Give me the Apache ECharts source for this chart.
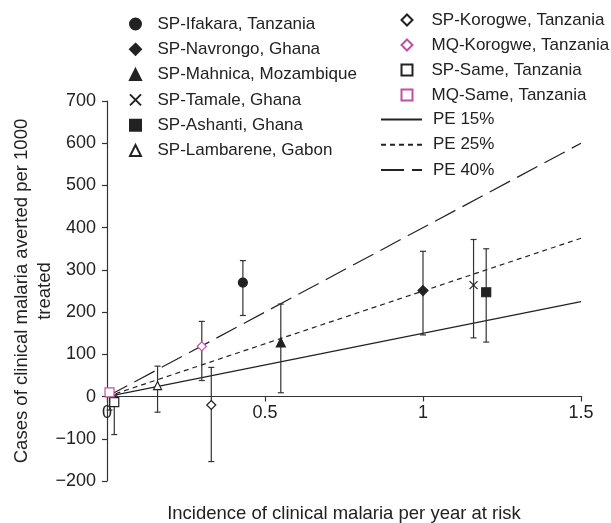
<!DOCTYPE html>
<html>
<head>
<meta charset="utf-8">
<script src="https://cdn.jsdelivr.net/npm/echarts@6/dist/echarts.min.js"></script>
<style>
html,body{margin:0;padding:0;background:#fff;}
#chart{width:611px;height:523px;}
</style>
</head>
<body>
<div id="chart"></div>
<script>
// ---- data ----
const studyNames = ['SP-Ifakara, Tanzania', 'SP-Navrongo, Ghana', 'SP-Mahnica, Mozambique', 'SP-Tamale, Ghana', 'SP-Ashanti, Ghana', 'SP-Lambarene, Gabon', 'SP-Korogwe, Tanzania', 'MQ-Korogwe, Tanzania', 'SP-Same, Tanzania', 'MQ-Same, Tanzania'];
const incidence = [0.43, 1.00, 0.55, 1.16, 1.20, 0.16, 0.33, 0.30, 0.023, 0.008];
const averted   = [270, 251, 128, 264, 247, 26, -20, 119, -13, 10];
const lowerCI   = [192, 146, 9, 139, 129, -37, -154, 38, -90, -32];
const upperCI   = [322, 344, 219, 372, 350, 72, 69, 178, 3, 17];

const peNames = ['PE 15%', 'PE 25%', 'PE 40%'];
const peX   = [0, 1.5];
const pe15  = [0, 225];
const pe25  = [0, 375];
const pe40  = [0, 600];

const xTicks = [0, 0.5, 1, 1.5];
const yTicks = [-200, -100, 0, 100, 200, 300, 400, 500, 600, 700];

// ---- styles ----
const INK = '#222';
const PINK = '#c04fa6';
const FONT = 'Liberation Sans, Arial, Helvetica, sans-serif';
const crossPath = 'path://M0,0L10,10M10,0L0,10';
const markerStyles = [
  {symbol: 'circle',   fill: INK,    stroke: INK,  size: 9},
  {symbol: 'diamond',  fill: INK,    stroke: INK,  size: 10},
  {symbol: 'triangle', fill: INK,    stroke: INK,  size: 9},
  {symbol: crossPath,  fill: 'none', stroke: INK,  size: 8},
  {symbol: 'rect',     fill: INK,    stroke: INK,  size: 9},
  {symbol: 'triangle', fill: '#fff', stroke: INK,  size: 8},
  {symbol: 'diamond',  fill: '#fff', stroke: INK,  size: 9},
  {symbol: 'diamond',  fill: '#fff', stroke: PINK, size: 9},
  {symbol: 'rect',     fill: '#fff', stroke: INK,  size: 9},
  {symbol: 'rect',     fill: '#fff', stroke: PINK, size: 9}
];

const series = [];

// PE lines
const peData = [pe15, pe25, pe40];
const peDash = ['solid', [5, 4], [23, 8]];
peNames.forEach((n, i) => {
  series.push({
    name: n, type: 'line', symbol: 'none', silent: true,
    data: peX.map((x, j) => [x, peData[i][j]]),
    lineStyle: {color: INK, width: 1.2, type: peDash[i]},
    itemStyle: {color: INK},
    z: 2
  });
});

// Error bars
series.push({
  type: 'custom', silent: true, z: 3,
  data: studyNames.map((n, i) => [incidence[i], lowerCI[i], upperCI[i]]),
  renderItem: function (params, api) {
    const lo = api.coord([api.value(0), api.value(1)]);
    const hi = api.coord([api.value(0), api.value(2)]);
    const cw = 3;
    const st = {stroke: '#333', lineWidth: 1.2};
    return {type: 'group', children: [
      {type: 'line', shape: {x1: lo[0], y1: lo[1], x2: hi[0], y2: hi[1]}, style: st},
      {type: 'line', shape: {x1: lo[0] - cw, y1: lo[1], x2: lo[0] + cw, y2: lo[1]}, style: st},
      {type: 'line', shape: {x1: hi[0] - cw, y1: hi[1], x2: hi[0] + cw, y2: hi[1]}, style: st}
    ]};
  }
});

// Point estimates
studyNames.forEach((n, i) => {
  const m = markerStyles[i];
  series.push({
    name: n, type: 'scatter', z: 5,
    symbol: m.symbol, symbolSize: m.size, symbolKeepAspect: true,
    data: [[incidence[i], averted[i]]],
    itemStyle: {color: m.fill, borderColor: m.stroke, borderWidth: 1.2, opacity: 1}
  });
});

const legendText = {fontFamily: FONT, fontSize: 17, color: INK, lineHeight: 20};

const option = {
  animation: false,
  backgroundColor: '#fff',
  textStyle: {fontFamily: FONT},
  grid: [
    {left: 107, right: 30, top: 101, bottom: 42, containLabel: false, outerBoundsMode: 'none'},
    // second grid whose bottom edge sits on y = 0, carrying the visible x axis
    {left: 107, right: 30, top: 101, bottom: 127, containLabel: false, outerBoundsMode: 'none'}
  ],
  legend: [
    {
      data: studyNames.slice(0, 6), orient: 'vertical', left: 122.5, top: 9,
      itemWidth: 11, itemHeight: 11, itemGap: 5.3,
      textStyle: Object.assign({}, legendText, {padding: [0, 0, 0, 11.5]}),
      selectedMode: false
    },
    {
      data: studyNames.slice(6), orient: 'vertical', left: 395.5, top: 5,
      itemWidth: 11, itemHeight: 11, itemGap: 5,
      textStyle: Object.assign({}, legendText, {padding: [0, 0, 0, 14]}),
      selectedMode: false
    },
    {
      data: peNames, orient: 'vertical', left: 375, top: 104.5,
      itemWidth: 41, itemHeight: 11, itemGap: 5.3,
      itemStyle: {color: 'transparent', borderColor: 'transparent', borderWidth: 0, opacity: 0},
      textStyle: Object.assign({}, legendText, {padding: [0, 0, 0, 6]}),
      selectedMode: false
    }
  ],
  xAxis: [
    {
      gridIndex: 0, type: 'value', min: 0, max: 1.5, interval: 0.5,
      axisLine: {show: false}, axisTick: {show: false}, axisLabel: {show: false}, splitLine: {show: false}
    },
    {
      gridIndex: 1, type: 'value', min: 0, max: 1.5, interval: 0.5, position: 'bottom',
      axisLine: {show: true, onZero: false, lineStyle: {color: '#333', width: 1.2}},
      axisTick: {show: true, inside: false, length: 5.5, lineStyle: {color: '#333', width: 1.2}},
      splitLine: {show: false},
      axisLabel: {
        margin: 8, fontSize: 18, color: INK, fontFamily: FONT, showMinLabel: true, showMaxLabel: true,
        formatter: v => xTicks.includes(v) ? String(v) : ''
      },
      name: 'Incidence of clinical malaria per year at risk',
      nameLocation: 'middle', nameGap: 108, nameMoveOverlap: false,
      nameTextStyle: {fontSize: 18.5, color: INK, fontFamily: FONT}
    }
  ],
  yAxis: [
    {
      gridIndex: 0, type: 'value', min: -200, max: 700, interval: 100,
      axisLine: {show: true, onZero: false, lineStyle: {color: '#333', width: 1.2}},
      axisTick: {show: true, inside: false, length: 5, lineStyle: {color: '#333', width: 1.2}},
      splitLine: {show: false},
      axisLabel: {
        margin: 11, fontSize: 18, color: INK, fontFamily: FONT,
        formatter: v => yTicks.includes(v) ? String(v).replace('-', '\u2212') : ''
      },
      name: 'Cases of clinical malaria averted per 1000\ntreated',
      nameLocation: 'middle', nameGap: 50.5, nameRotate: 90, nameMoveOverlap: false,
      nameTextStyle: {fontSize: 18.5, color: INK, fontFamily: FONT, lineHeight: 23, align: 'center'}
    },
    {
      gridIndex: 1, type: 'value', min: 0, max: 700, show: false
    }
  ],
  series: series
};

const chart = echarts.init(document.getElementById('chart'), null, {renderer: 'canvas'});
chart.setOption(option);
</script>
</body>
</html>
